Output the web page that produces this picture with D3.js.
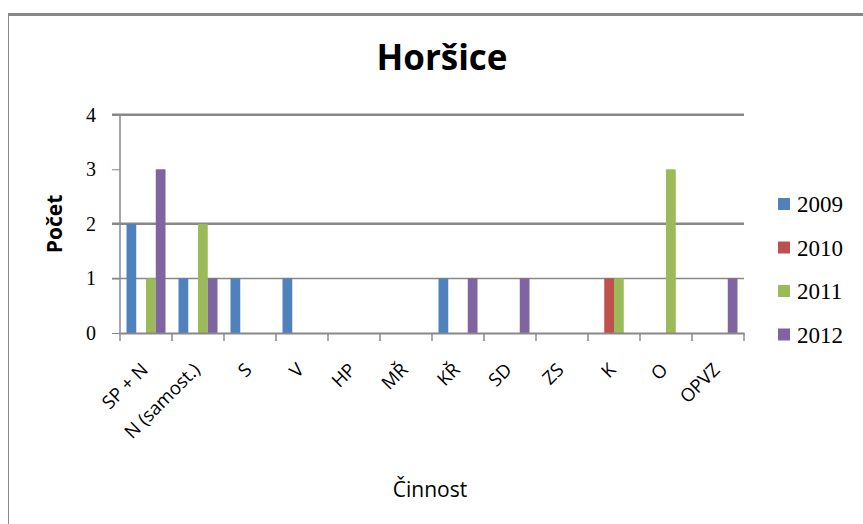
<!DOCTYPE html>
<html><head><meta charset="utf-8">
<script src="https://cdn.jsdelivr.net/npm/d3@7"></script>
<style>body{margin:0;background:#fff}</style>
</head><body>
<script>
const categories = ["SP + N","N (samost.)","S","V","HP","MŘ","KŘ","SD","ZS","K","O","OPVZ"];
const seriesNames = ["2009","2010","2011","2012"];
const colors = ["#4f81bd","#c0504d","#9bbb59","#8064a2"];
const v2009 = [2,1,1,1,0,0,1,0,0,0,0,0];
const v2010 = [0,0,0,0,0,0,0,0,0,1,0,0];
const v2011 = [1,2,0,0,0,0,0,0,0,1,3,0];
const v2012 = [3,1,0,0,0,0,1,1,0,0,0,1];
const yTicks = [0,1,2,3,4];
const gridValues = [1,2,4];
const seriesValues = [v2009,v2010,v2011,v2012];

const W=863,H=524;
const svg=d3.select("body").append("svg").attr("width",W).attr("height",H);
// frame
svg.append("line").attr("x1",8).attr("x2",W).attr("y1",14.5).attr("y2",14.5).attr("stroke","#888").attr("stroke-width",3);
svg.append("line").attr("x1",8.5).attr("x2",8.5).attr("y1",13).attr("y2",H).attr("stroke","#888").attr("stroke-width",1);

const L=120,R=744,T=114.7,B=333;
const x0=d3.scaleBand().domain(categories).range([L,R]);
const x1=d3.scaleBand().domain(seriesNames).range([6.5,x0.bandwidth()-6.5]);
const y=d3.scaleLinear().domain([0,4]).range([B,T]);

// gridlines
svg.append("g").selectAll("line").data(gridValues).join("line")
 .attr("x1",112).attr("x2",R).attr("y1",d=>y(d)).attr("y2",d=>y(d))
 .attr("stroke","#888").attr("stroke-width",d=>d===1?1.5:2.5);

// bars
const g=svg.append("g");
categories.forEach((c,i)=>{
  seriesNames.forEach((s,j)=>{
    const v=seriesValues[j][i];
    if(v>0) g.append("rect").attr("x",x0(c)+x1(s)).attr("width",x1.bandwidth())
      .attr("y",y(v)).attr("height",y(0)-y(v)).attr("fill",colors[j]);
  });
});

// y axis
const ya=svg.append("g").attr("transform",`translate(${L},0)`)
 .call(d3.axisLeft(y).tickValues(yTicks).tickSize(8).tickPadding(16).tickFormat(d3.format("d")));
ya.select(".domain").attr("stroke","#888").attr("stroke-width",1.5).attr("d",`M0,${T}V${B}`);
ya.selectAll(".tick line").attr("stroke","#888");
ya.selectAll("text").attr("font-family","Liberation Serif, serif").attr("font-size",20).attr("fill","#000");

// x axis
const xa=svg.append("g").attr("transform",`translate(0,${B})`)
 .call(d3.axisBottom(x0).tickSize(0).tickFormat(""));
xa.select(".domain").attr("stroke","#888").attr("stroke-width",2);
const bounds=[L,...categories.map(c=>x0(c)+x0.bandwidth())];
svg.append("g").selectAll("line").data(bounds).join("line")
 .attr("x1",d=>d).attr("x2",d=>d).attr("y1",B).attr("y2",B+8).attr("stroke","#888").attr("stroke-width",1.5);

svg.append("g").selectAll("text").data(categories).join("text")
 .attr("transform",d=>`translate(${x0(d)+x0.bandwidth()/2+3},${B+38}) rotate(-45)`)
 .attr("text-anchor","end").attr("font-family","Open Sans, sans-serif").attr("font-size",18.5).attr("fill","#000")
 .text(d=>d);

// title
svg.append("text").attr("x",442).attr("y",70).attr("text-anchor","middle")
 .attr("font-family","Open Sans, sans-serif").attr("font-weight","bold").attr("font-size",35).text("Horšice");
// axis titles
svg.append("text").attr("transform",`translate(62,224) rotate(-90)`).attr("text-anchor","middle")
 .attr("font-family","Open Sans, sans-serif").attr("font-weight","bold").attr("font-size",21).text("Počet");
svg.append("text").attr("x",430).attr("y",497).attr("text-anchor","middle")
 .attr("font-family","Open Sans, sans-serif").attr("font-size",21).text("Činnost");

// legend
const lg=svg.append("g");
seriesNames.forEach((s,j)=>{
  const cy=204+j*43.5;
  lg.append("rect").attr("x",778).attr("y",cy-6).attr("width",12).attr("height",12).attr("fill",colors[j]);
  lg.append("text").attr("x",797).attr("y",cy+8).attr("font-family","Liberation Serif, serif").attr("font-size",23).text(s);
});
</script>
</body></html>
